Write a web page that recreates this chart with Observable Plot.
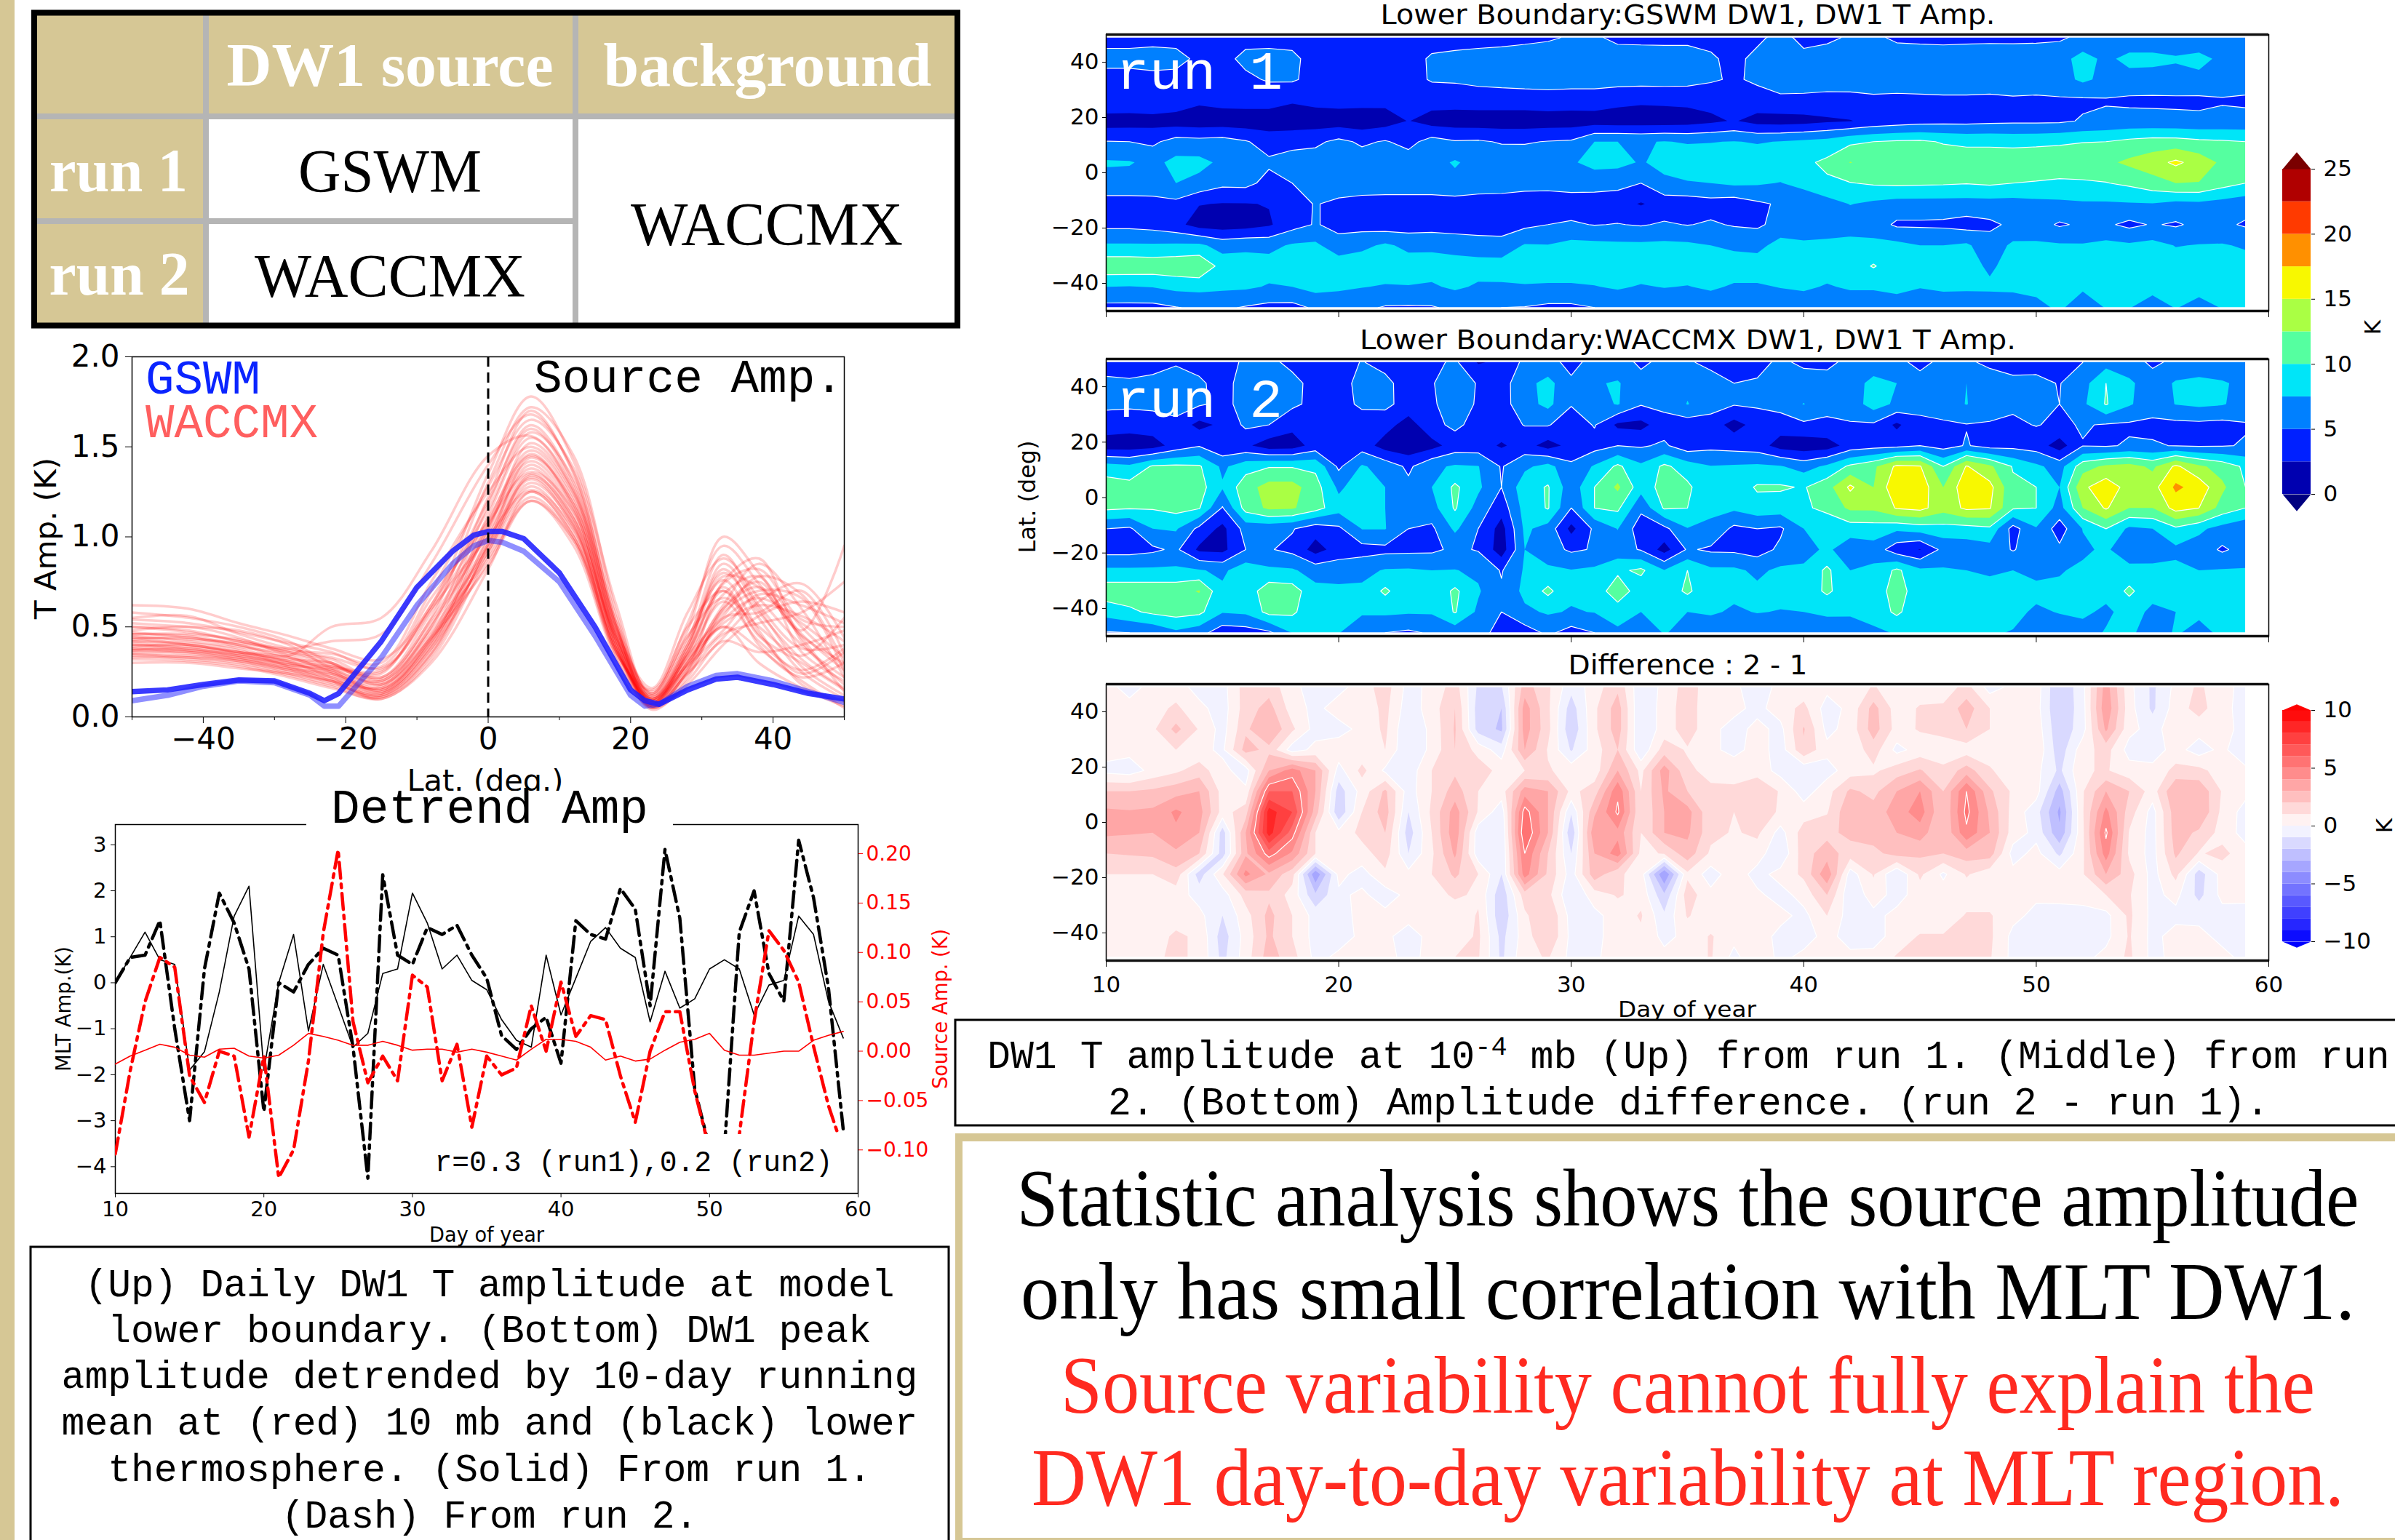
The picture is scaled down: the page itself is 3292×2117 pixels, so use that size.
<!DOCTYPE html>
<html><head><meta charset="utf-8">
<style>html,body{margin:0;padding:0;background:#fff;overflow:hidden}#page{position:relative;width:3292px;height:2117px;overflow:hidden;background:#fff}#page svg{position:absolute}</style>
<script src="https://cdn.jsdelivr.net/npm/d3@7"></script>
<script src="https://cdn.jsdelivr.net/npm/@observablehq/plot@0.6"></script>
</head><body><div id="page"></div>
<script>
// ---------- Source amplitude panel ----------
const redLats=[-50,-42,-35,-28,-22,-15,-8,0,6,12,18,23,28,33,38,44,50];
const redCurves=[
[.62,.60,.52,.45,.38,.32,.62,1.35,1.78,1.42,.62,.10,.38,.78,.72,.45,.30],
[.58,.55,.50,.42,.30,.22,.55,1.30,1.72,1.45,.58,.08,.30,.62,.85,.60,.22],
[.55,.56,.46,.38,.33,.28,.70,1.28,1.65,1.38,.55,.12,.42,.90,.62,.38,.40],
[.52,.50,.48,.40,.27,.20,.50,1.22,1.70,1.35,.52,.05,.25,.55,.58,.70,.35],
[.50,.47,.42,.36,.30,.18,.45,1.18,1.62,1.30,.50,.09,.35,.72,.45,.30,.15],
[.48,.50,.44,.34,.28,.25,.62,1.15,1.58,1.32,.48,.14,.48,1.0,.80,.50,.28],
[.47,.44,.40,.33,.26,.16,.42,1.12,1.55,1.25,.50,.07,.28,.48,.68,.62,.52],
[.46,.46,.43,.37,.35,.30,.75,1.25,1.50,1.22,.45,.10,.40,.82,.55,.25,.10],
[.45,.42,.38,.30,.24,.14,.40,1.08,1.48,1.20,.46,.06,.22,.60,.75,.48,.95],
[.44,.43,.41,.36,.32,.22,.58,1.10,1.45,1.18,.44,.11,.36,.70,.40,.22,.30],
[.44,.40,.36,.31,.22,.13,.38,1.05,1.42,1.15,.42,.08,.32,.52,.62,.56,.42],
[.43,.44,.39,.35,.29,.20,.52,1.02,1.40,1.12,.40,.05,.26,.75,.88,.42,.18],
[.42,.41,.37,.28,.21,.12,.36,1.00,1.38,1.10,.44,.13,.45,.66,.50,.34,.55],
[.41,.38,.34,.30,.27,.24,.66,1.08,1.36,1.14,.40,.07,.30,.58,.70,.66,.25],
[.40,.39,.36,.33,.25,.15,.44,.98,1.35,1.08,.38,.09,.38,.85,.60,.28,.12],
[.40,.37,.33,.27,.20,.11,.34,.95,1.32,1.05,.42,.06,.24,.46,.52,.58,.75],
[.39,.40,.35,.29,.26,.19,.48,.94,1.30,1.06,.36,.10,.34,.68,.78,.36,.20],
[.38,.36,.32,.26,.19,.13,.40,.92,1.28,1.02,.38,.04,.20,.42,.36,.40,.48],
[.38,.37,.35,.31,.28,.26,.60,1.00,1.26,1.04,.36,.12,.44,.76,.48,.18,.08],
[.37,.35,.31,.25,.20,.10,.32,.90,1.25,1.00,.34,.06,.28,.54,.66,.52,.33],
[.36,.36,.33,.28,.23,.16,.46,.88,1.22,.98,.36,.08,.32,.64,.42,.26,.38],
[.35,.33,.30,.24,.18,.12,.38,.86,1.20,.98,.35,.15,.52,.95,.74,.44,.14],
[.35,.34,.32,.27,.24,.18,.44,.84,1.20,.95,.32,.05,.18,.40,.56,.64,.58],
[.34,.32,.29,.23,.17,.10,.30,.82,1.25,1.00,.38,.07,.26,.50,.30,.16,.06],
[.33,.33,.31,.26,.22,.14,.42,.92,1.34,1.10,.42,.09,.30,.60,.72,.46,.26],
[.32,.31,.28,.22,.16,.11,.35,.96,1.44,1.18,.44,.06,.24,.44,.64,.74,.44],
[.30,.30,.27,.24,.20,.17,.50,1.04,1.52,1.24,.46,.11,.40,.80,.58,.32,.16],
[.50,.48,.42,.38,.42,.46,.85,1.40,1.68,1.36,.52,.13,.50,.70,.46,.24,.36],
[.54,.52,.47,.41,.36,.27,.60,1.20,1.60,1.28,.50,.08,.34,.56,.78,.68,.30],
[.46,.45,.40,.34,.50,.55,.92,1.45,1.56,1.26,.48,.16,.58,.88,.66,.40,.22],
[.42,.40,.36,.32,.30,.21,.54,1.06,1.46,1.16,.40,.07,.36,.74,.82,.54,.50],
[.37,.38,.34,.29,.25,.15,.43,.96,1.33,1.07,.37,.10,.29,.50,.38,.20,.05]
];
const blueLats=[-50,-45,-40,-35,-30,-25,-23,-21,-15,-10,-5,-2,0,2,5,10,15,20,22,24,28,32,35,40,45,50];
const gswmA=[.14,.15,.18,.205,.2,.13,.09,.13,.42,.72,.92,1.01,1.03,1.03,.99,.8,.5,.15,.09,.07,.15,.21,.22,.18,.13,.1];
const gswmB=[.09,.12,.17,.2,.19,.12,.06,.06,.33,.62,.85,.95,.98,.97,.92,.75,.45,.12,.06,.07,.17,.23,.24,.2,.14,.08];

// ---------- Detrended amplitude panel ----------
const days=d3.range(10,60);
const mltRun1=[0,.55,1.1,.5,.4,-1.9,-1.5,-.2,1.45,2.1,-1.9,0,1.05,-1.05,.4,-.5,-1.4,-1.1,.2,.3,1.95,1.3,.3,.6,.05,-.15,-.8,-1.25,-1.4,.6,-.7,.1,.9,1.2,.75,.55,-.85,.25,-.55,-.35,.3,.5,.3,-.7,-.05,.05,1.45,1.05,-.4,-1.2];
const mltRun2=[0,.55,.6,1.35,-1.0,-3.0,.3,1.95,1.3,.3,-2.8,0,-.2,.4,.75,.6,-1.4,-4.25,2.35,.6,.4,1.2,1.05,1.25,.6,.1,-1.15,-1.45,-1.0,-.75,-1.75,1.35,1.05,.95,2.05,1.6,-.5,2.9,1.4,-2.3,-3.6,-3.6,1.1,2.0,.2,-.4,3.1,1.85,-.1,-3.2];
const srcRun1=[-.013,-.005,.001,.007,.004,-.004,-.006,.002,.003,-.005,-.007,-.004,.006,.018,.015,.011,.006,.006,.01,.006,.001,.002,.002,-.001,.002,-.001,-.005,-.009,.002,.012,.012,.01,.004,-.009,-.005,-.01,-.008,.001,.009,.012,.018,.001,-.004,-.004,-.002,0,0,.011,.016,.02];
const srcRun2=[-.104,-.02,.05,.095,.085,-.025,-.052,0,-.005,-.087,-.005,-.128,-.1,-.01,.12,.204,.03,-.032,-.005,-.03,.077,.065,-.03,.007,-.077,-.005,-.024,-.017,.046,0,.07,.015,.036,.032,-.025,-.072,0,.04,.04,-.04,-.1,-.115,-.085,.03,.122,.102,.07,.005,-.055,-.1];

// ---------- Contour grids: 14 latitudes (top to bottom) x 50 days ----------
const run1=[
[4.4,4.4,4.4,4.4,4.4,4.4,4.4,4.4,4.4,4.4, 4.4,4.4,4.4,4.4,4.4,4.4,4.4,4.4,4.6,4.8, 5.2,5.3,4.6,4.5,4.5,4.5,4.6,4.6,4.7,5.5, 4.6,4.6,5.3,5.4,4.7,4.5,4.5,4.5,4.5,4.5, 4.6,4.7,5.6,5.6,5.6,5.6,5.6,5.6,5.6,5.6],
[5.6,5.6,5.8,5.6,4.6,4.4,5.5,5.6,5.4,4.3, 4,4,4,4.4,5.2,5.4,5.6,5.8,5.9,6, 6,6,5.9,6,5.9,5.9,5.2,4.6,5.4,5.8, 5.4,6,6,6,6,6.2,6,6.2,6.4,6.3, 6.2,6.5,8.5,6.9,8.3,8.3,7.8,8.3,6.9,6.5],
[4.3,4.3,4.4,4.4,4.5,4.5,4.6,5.2,5.3,4.2, 4,4,4,4.2,5.2,5.3,5.6,5.8,6,6, 6,6,6,6,6,5.9,5.3,4.7,5.4,5.9, 6,6,6.2,7,6.2,6.2,6.2,6.2,6.2,6.2, 6.2,6.5,8,6.8,6.5,6.3,6.5,6.8,6.3,6.2],
[4.8,4.5,4.6,4.2,3,3.4,3.6,3.6,2.8,3.2, 3.4,3.4,3.2,3.6,3.6,3.6,3.8,3.8,3.8,4, 3.8,3.8,3.2,2.9,3,3.1,3.3,3.5,4,4.6, 4.5,4.3,4.2,4.2,4.4,4.5,4.6,4.6,4.5,4.7, 4.6,4.7,4.6,4.8,4.6,4.6,4.6,4.5,4.8,4.6],
[1.2,1.3,1.5,1.2,1,1.1,1,1,1,1.2, 1.2,1,1.4,2.6,1.4,1.2,1.1,1.1,1.1,1.2, 1.2,1.3,1.2,1.2,1.2,1.4,2,2.7,1.6,1.4, 1.6,2.1,2.4,3.2,3.6,4,4.2,4.2,4.4,4.5, 4.5,4.6,5.2,5.5,5.7,5.6,5.5,5.5,5.6,5.7],
[5.1,5,4.5,6,5.8,6,5.2,4,4.3,4.5, 5.6,4.6,5.2,4.2,6,5.2,5.3,4.8,4.8,5.1, 5.3,7.5,7.5,7.3,7.6,7.3,7.4,7.6,7.3,7.6, 8,8.4,9.5,10,10.3,10.4,9.8,9.5,9.5,9.3, 9.4,9.6,9.9,10,10.6,11,11,10.5,10.3,10],
[7.8,7.7,6.8,8.2,8.2,7,6.5,5.4,6,6.2, 6.2,6.2,6.2,6.3,6.5,7.8,6.5,6.5,6.4,6.5, 7.2,8.3,8.2,7.3,8.2,9,9,9,9,9.3, 9.5,10.5,12.6,11.5,11.2,12.3,11.5,11.4,11.4,11.6, 11.8,11.8,12,12,13,14,15.5,14,12,11.5],
[6.5,6.5,7,7.5,6.8,5.6,5.7,4.2,5,6, 6,6,6,6,6,6.7,6,6,5.7,5.7, 6,6,5.8,5,7,7.3,7.5,8,7.8,7.4, 8.4,9.6,9.9,10.3,10.5,10.4,10.3,10.1,10.4,10, 9.8,9.5,9.6,9.9,10.5,11.5,12.5,12.4,11,10],
[4,4,3.8,4.3,2.6,2.4,2.4,2.6,4.3,5.1, 4.6,4.3,4.2,4.2,4.2,4,4.1,4,3.9,3.8, 3.8,3.7,3.5,2.3,3.5,3.6,4,3.6,4.6,5.3, 5.5,6.5,7.6,7,6.5,6.5,6.5,6.5,6.5,6.5, 6.8,7,7.2,7.2,7.3,7.4,6.8,7,6.5,6],
[4.3,4.3,4,3.2,1.5,1.2,1.4,2.2,4,5.2, 4.2,4,3.6,3.7,3.8,3.7,3.6,3.7,4.4,5, 5.3,4.9,5.1,4.8,5.3,4.9,5.3,4.8,4.6,5.8, 5.9,6,6,6.2,4.6,4.6,4.5,4,4.5,5.5, 6,4.7,5.4,5.4,4.4,5.2,4.7,5.6,5.5,4.7],
[7.8,7.8,7.8,7.9,8,6.5,7,6.8,7.8,8, 6,6.9,7.9,6.9,7,6.6,6.3,6,7.7,7.6, 8.3,8.2,8,8,8.1,8,7.5,7,6.7,8.5, 8,8.2,8.6,8.2,8.2,7.5,7.5,7.9,6,8, 7.9,7.8,7.7,8.2,7.9,8.3,7.4,7.6,7.7,7.2],
[11.8,11.8,11.6,11.8,12.2,9,8.5,8.5,9.5,9.8, 9,9,8.8,8.6,8.5,8.5,8.4,8.5,8.8,8.8, 8.8,8.8,8.8,8.8,8.8,8.8,8.8,8.8,8.8,8.8, 8.6,8.6,8.7,10.2,8.6,8.5,8.5,8.2,7.2,8.2, 8.4,8.5,8.5,8.5,8.5,8.5,8.5,8.5,8.5,8.5],
[7.5,7.4,7.6,8.2,8.3,8,7.9,7.3,7.5,8.4, 8,7.6,7.3,7.4,7.2,7.9,7.2,7.2,7.3,7.2, 7.2,7.4,7.8,7.3,7.6,7.4,7.9,7.2,7.2,7.6, 7.9,7.3,7.8,7.8,8.2,7.6,7.9,7.8,7.8,7.8, 8,8.3,7.8,8.2,8.2,8.2,8.2,8.2,8.2,8.2],
[4.3,4.3,4.3,4.9,5.4,5.4,4.8,4.3,4.2,5.4, 5.6,5.5,4.8,4.7,4.8,5.5,5.6,5,4.9,4.5, 4.5,5,5.6,5.8,5.8,5.8,5.8,5.8,6,6, 6,6,6,6,6.2,6.2,6.2,6.4,6.5,6.7, 7,7.8,6.5,7.6,7.6,6.5,7.6,6.8,7.6,7.6]
];
const run2=[
[4.2,4,4.3,4.8,4.4,4.3,5.3,5.5,4.5,4, 4.2,5.1,4.4,4,4.3,5.5,2.3,3,5.6,5.6, 4.5,5.6,5.5,4.8,5.3,5.3,4.4,4.2,4.4,5.4, 4.6,4.6,5.5,5.6,5.4,4.6,5.4,5.5,4.4,4.2, 4.3,4.4,5,6.5,6,4.6,5.5,5.6,5.6,5.6],
[5.4,5.3,5.5,6,5.3,4.3,5.8,6,5.6,4.3, 4,5.8,5.5,4.1,4.8,6.5,4.8,4,6.6,8.4, 5.3,7.2,7.8,5.4,6.3,7,6,5,5.2,6, 6,5.7,5.9,8.5,7.5,5.6,6,7.5,6.5,5.5, 5.5,4.9,6.5,10,8,6,7.8,8.3,7.8,6.8],
[5.5,5.5,5.6,6.5,5.3,4.5,5.6,7,5.5,4.3, 4,5.5,5.6,4,4.5,6.7,4.6,4,6.5,8.2, 5.2,6.5,7.7,5.2,5.8,7.6,6.2,5.2,5.4,6, 7.6,5.6,6,8.7,7,5.6,6.3,7.6,6,5.4, 7.5,5,7,10.2,7.8,6,7.6,8,7.7,6.5],
[3.8,3.4,3.8,4,1.8,3,5.5,5,3.2,2.5, 3.5,3.6,3.5,1.4,4.2,5.6,4,4,5.1,5.2, 3.5,5.2,2,1.8,3.8,3.6,3.7,1.6,3.4,3.6, 4.5,4.6,4.8,4.6,2,4.5,4.6,4.9,4.8,4.6, 5.1,4.6,5.2,4.8,4.6,4.5,4.3,4.4,4.2,4.8],
[1.2,1.2,1.4,3.5,4.8,3,3,1.2,1.3,3.5, 3.8,3.8,1.4,.8,1.6,3.6,3.6,2.2,3.5,1.5, 3.3,4,5,4.7,5.4,3.5,4.3,4,3.6,1.5, 1,1.3,3.5,4,4.2,5,4,5.2,4,4.2, 3.8,1.3,4.9,4.7,5.3,5.2,4.9,4.7,4.8,5.2],
[8.5,8,10.3,10.5,10.3,7,9,9.8,9.8,9.5, 4.5,7.8,6.5,4.5,7,7.8,7.6,4.8,7,8.4, 5.5,7.8,10.5,8,10.5,8.8,7.6,7.8,8,7.7, 6.5,8,10.5,12,15.5,15.2,10,15.2,13,9.8, 8,6.5,11.5,13,13.5,12,15.5,13,11.5,9.5],
[11.5,11,11,12.5,11,7.8,11.5,13.5,13.5,11, 7,9,7.5,5.6,7.5,10.5,8,5,9,10.2, 6,10,13,8.5,11,10.5,8,8.5,10.3,10.3, 9.8,11.5,15.5,12.5,17,16.5,12.5,16.8,15.8,10.5, 10,7.5,14.5,16.5,14,14,18,16.5,13,10],
[10.5,10.2,10.2,10.8,10.2,4.8,11,13,12.8,11, 8.5,9.5,7.5,5.5,6.5,10.3,6.5,3.5,8.5,10.2, 5,10,10.5,5.6,10.3,10,8,8,9,8.8, 9.5,10.8,13,13,15.2,15.8,13.5,15.5,15.2,10.3, 10,6.5,12.5,15.3,12.5,12.5,16,15,11.5,10],
[5,4.6,7.5,7.8,4.3,1.8,6,5.8,5.2,3.5, 4.5,7.6,7.6,5,4.5,8,5,1.5,8,6.5, 1.8,5.5,7.6,3.5,4.3,7.4,7,4.4,5,4.6, 7.5,7.7,8.7,8.8,8,8.6,9,9,9.5,4, 7.3,3.8,7.6,10,7,7.5,9.5,8,6.6,5.5],
[4,4,4.5,5.5,2,1.8,5,5.2,4.3,1.5, 3.6,4,4.3,4.4,4.5,5.5,4.8,1.2,7.5,6, 4.6,5.2,6,4.8,1.5,5.3,4.6,4.5,3.9,5.5, 6.5,8,6,6.5,3.5,2.4,5.7,6,6.5,4.8, 6.5,5.5,7,8,5.4,6.5,7,6.4,4.6,6],
[8,8,8,8,7.7,7,9,8,7.8,6.5, 6.5,6.8,7.7,7.8,7.5,7.6,7,4.8,7.8,8, 7.6,8,9.5,10.5,7.6,10,8,8,7,8, 8,10.5,7.5,8,10.5,8,7.8,7.5,7.3,7.5, 7,7.3,8,8,8.5,8,8,7.5,7.7,7.7],
[11.5,11.5,11.5,11.5,12.7,8,8.5,11.5,11.2,8.2, 8,8,10.5,8,8,10.5,7.8,5.3,8.2,10.6, 8,8.5,11.5,8.6,8.4,10.5,8,8,8,8.2, 8.3,10.5,8.3,8.5,11.2,8.5,8,8,8,8, 8,8,8,8.3,10.5,8.3,8,8,8,7.8],
[8.5,9.5,10.5,11,10.6,7.7,8,10.8,10.5,8, 8,7.8,8,7.8,7.8,10.2,7,5,7,7.8, 7.3,7.6,8.7,7.5,7.7,7.5,7.8,7.2,7.6,7.4, 7.5,7.8,7.7,8.5,10.5,8.2,8,7.9,7.9,8, 7.2,7.6,8,7,8.5,7,7.5,7.7,8,8],
[4.8,5,5.5,7,6,3.5,3.8,4.5,7.6,7.6, 7.6,6,5,4.6,5.3,6,6.5,3.5,3.8,5.5, 4,5,7,6.5,7.6,7,6,5.5,6,6.5, 6.8,6.5,6.8,7,7.7,7.7,7.7,7.7,7.7,7.4, 6.5,6.5,6.5,7.7,7.7,7,7.6,7.2,7.7,7.5]
];
const diff=[
[.3,-.3,.3,.5,-.4,-.4,1.5,1.6,.3,-.5, -.3,.5,1.5,-.4,.3,1.5,-1.2,-1.1,2.5,1.2, -.7,.5,1.8,-.8,.3,1.5,.4,.2,-.5,.3, .4,.3,.4,1.1,.4,.5,.4,1.4,-.4,.3, .5,-2,-.3,3.5,.3,-1.2,.3,1.2,.3,-.3],
[.5,.3,.6,1.2,.3,-.5,1.5,2.4,.5,-.3, .5,.3,1.3,-.6,.5,2,-1.5,-2,3.5,1.2, -1.5,.8,2.5,-1,.5,1.5,.3,.3,-.3,.5, 1.3,-.5,.3,2.4,.5,1.1,1.2,2.5,1,.3, .4,-2,-.4,3.8,.4,-1.2,.5,1.4,.3,-.4],
[.9,.4,.8,2.3,.9,-.4,1.8,3,1.2,-.4, -.4,.3,1.2,-1,.3,2.1,-1.4,-2.2,3.5,1.3, -1.8,.8,2.5,-1,.5,1.5,.3,-.4,.3,-.3, 2.1,-.3,.4,2.5,.6,1.1,1.3,2,1,.4, .6,-1.8,-.4,3.2,.3,-.4,.6,.4,.3,-.3],
[.4,.3,.6,1,.3,-.2,2.4,1.7,-.5,.3, .6,.3,1,-1,.3,2,.6,-.5,3,.9, -1.1,.5,2,-.8,1.5,.9,.3,-.4,.5,-.5, 1.8,.3,.3,1.5,-.3,.4,.5,.5,.6,.4, .8,-1.6,.6,1.4,-.4,-.5,.4,-.5,.3,-1],
[-.3,-.5,.3,.8,1.5,.3,-.5,3,4.5,3, -.4,1.3,-.2,-.6,1,1.8,1.6,.6,1,1.1, .6,.4,3,.7,3.5,1.2,.7,.8,.6,-.4, -.8,-.4,.5,.8,1.5,2.1,1.2,2.5,1.1,.5, .3,-1.2,.9,1.1,.4,.3,1.3,1.3,.5,.3],
[2,2,2.2,2.6,3,.6,.2,6,6,3, -1.5,.4,2.2,-.5,1,2.5,1,.5,3.5,3, .7,1.5,4.8,1,3.2,2,1.2,1.1,1.8,.9, -.5,.6,2.2,1.7,3,4,2,5,2.2,.8, .4,-2.5,.9,3,2,.5,3,2.8,.9,.3],
[3.2,3.1,3.2,4.2,3.4,.6,1.5,8.5,7,2.5, -1.8,1,2.5,-1,1.2,3.5,.9,-.6,5.5,3, -.9,2.8,5.2,1,3,3.4,1.2,1,1.8,.8, .5,.9,2.9,2.4,3.5,4.5,2,5.3,2.8,.6, -.6,-3.2,.9,4.3,1.5,-.4,2.6,3,.7,-.4],
[3.2,3.1,3,3.8,3,-1.5,3,8.5,5.5,1, .3,1.3,2,-1.5,1,3.7,-.6,-1,6,3, -1.8,3.8,3.7,1,3,3.2,1.3,.9,1.2,-.4, 1.5,1.7,2.3,2.5,3,3.5,2,4.8,3,.5, -.3,-2.8,.8,5.2,.9,-.4,2.5,1.8,.6,-.4],
[2,2.1,2.2,2.8,2,-1.5,2.8,5.5,3.8,1, .4,.6,1.5,-1,.8,3.2,-.6,-1,5,2, -1,3,4.5,.7,1.1,2.6,.8,.4,.5,-.9, 1.6,2.5,1.5,1.7,2.4,2.2,2,2.5,2.5,-.4, .3,-1.2,.8,4.5,.8,-.4,2.2,.9,1.3,.4],
[1,1,1,1.6,-1.5,.9,4.3,2.8,1.4,-3.8, .3,-.4,.8,.3,1,2.2,1,-1,4.5,1.8, -.5,2.6,1.2,.5,-4,.8,-.5,.6,-.4,.4, 1.2,3.8,-.5,1.1,-1,1.2,-.2,1.1,.4,.3, .3,.4,.9,3,1.4,-.4,1.3,-1.5,.4,.3],
[.5,.5,.4,.5,-.4,-.5,1.4,1.8,.6,-1.8, -.2,.2,-.5,.3,.5,1.2,.8,-1.7,1.5,1.3, -.9,.5,1.1,.7,-1.8,1.5,.3,.6,.2,-.4, .4,2,-.8,.5,-.4,.5,.5,.5,.5,.3, .2,.3,.3,1,1.1,-.3,.3,-1.3,.3,.2],
[.3,.3,.3,.5,.3,-1,.6,2.3,1,-.4, -.4,.3,.3,.3,.3,.3,1.1,-1.8,.8,2, -.4,-.3,.5,1.1,-.8,1.1,.3,.3,.3,.3, -.3,1,-.5,-.3,.3,.3,.3,1.1,1.1,.3, -.3,-.4,-.3,-.3,1.2,-.3,-.3,-.3,-.4,-.3],
[.3,.3,.5,1.2,.8,-1.5,.4,2.2,1,-.4, -.4,.2,.2,-.4,.3,.3,1.2,-1.3,.5,2, -.3,-.3,.5,.8,-.3,.3,1.1,.3,.5,-.3, -.5,.4,-.5,-.4,.4,1.1,1.1,1.2,1.2,-.3, -.3,-.3,-.4,-.3,1.1,-.3,.4,.3,-.3,-.3],
[.3,.3,.8,1.2,.8,-1.3,.5,2.5,1.4,-.3, .2,.3,.3,-.3,.3,1,1.1,-1.2,.7,1.1, -.3,-.3,.8,.4,.3,.3,1.1,-.3,.8,-.3, .3,.4,.3,.3,1.1,1.1,1.1,1.2,1.1,-.3, -.3,-1,-.3,.3,1.2,-.3,.3,.3,.3,-.3]
];

// ---------- Colour levels ----------
const ampLevels=[0,2.5,5,7.5,10,12.5,15,17.5,20,22.5];
const ampColors=["#0000b0","#0020ff","#0080ff","#00e5f8","#55ffa0","#aaff44","#f8f800","#ff9000","#ff3a00","#b00000"];
const diffLevels=[-10,-9,-8,-7,-6,-5,-4,-3,-2,-1,0,1,2,3,4,5,6,7,8,9];
const diffColors=["#0c0cff","#2626ff","#4040ff","#5959ff","#7373ff","#8c8cff","#a6a6ff","#bfbfff","#d9d9ff","#f2f2ff","#fff2f2","#ffd9d9","#ffbfbf","#ffa6a6","#ff8c8c","#ff7373","#ff5959","#ff4040","#ff2626","#ff0c0c"];

const page=document.getElementById("page");
const mount=(el,left,top)=>{el.style.left=left+"px";el.style.top=top+"px";page.appendChild(el);return el;};
const baseStyle=(size)=>({background:"transparent",overflow:"visible",fontFamily:"'DejaVu Sans'",fontSize:size+"px",color:"#000"});

// ---------- Contour panels ----------
function contourPanel(rows,levels,colors,lines,frameTop,frameBottom,showX){
  const values=rows.flat();
  const grid={width:50,height:rows.length,x1:9.5,x2:59.5,y1:52.5,y2:-52.5,clip:true};
  const mt=10,mb=60,left=1420,W=1720;
  const bg=(a,b,c,d)=>Plot.rect([0],{x1:()=>a,x2:()=>b,y1:()=>c,y2:()=>d,fill:"white"});
  const svg=Plot.plot({
    width:W,height:frameBottom-frameTop+mt+mb,marginLeft:100,marginRight:22,marginTop:mt,marginBottom:mb,
    style:baseStyle(31),
    x:{domain:[10,60]},y:{domain:[-50,50]},
    color:{type:"threshold",domain:levels.slice(1),range:colors},
    marks:[
      Plot.contour(values,{...grid,fill:Plot.identity,thresholds:levels}),
      Plot.contour(values,{...grid,value:Plot.identity,stroke:"white",strokeWidth:1.2,thresholds:lines}),
      bg(59,60,-50,50),bg(10,60,48.75,50),bg(10,60,-50,-48.75),
      Plot.frame({stroke:"#000",strokeWidth:1.5}),
      Plot.ruleY([-50,50],{stroke:"#111",strokeWidth:3.5}),
      Plot.axisY({ticks:[-40,-20,0,20,40],tickSize:5,tickPadding:5,label:null,tickFormat:d3.format("d")}),
      Plot.axisX({ticks:[10,20,30,40,50,60],tickSize:9,tickPadding:12,label:null,tickFormat:showX?d3.format("d"):()=>""})
    ]
  });
  mount(svg,left,frameTop-mt);
}
contourPanel(run1,ampLevels,ampColors,[5,10,15,20],47,427,false);
contourPanel(run2,ampLevels,ampColors,[5,10,15,20],493,874,false);
contourPanel(diff,diffLevels,diffColors,[-5,0,5],940,1320,true);

// ---------- Colour bars ----------
function colorBar(levels,colors,hi,lo,step,top,y0,yHi,ticks){
  const H=y0-yHi+70;
  const bars=levels.map((l,i)=>({l,c:colors[i]}));
  const svg=Plot.plot({
    width:110,height:H,marginLeft:0,marginRight:71,marginTop:yHi-top,marginBottom:H-(y0-top),
    style:baseStyle(31),
    x:{domain:[0,1],axis:null},y:{domain:[lo,hi]},color:{type:"identity"},
    marks:[
      Plot.rect(bars,{x1:()=>0,x2:()=>1,y1:"l",y2:d=>d.l+step,fill:"c"}),
      Plot.line([[0,hi],[.5,hi+step*.52],[1,hi]],{x:d=>d[0],y:d=>d[1],fill:colors[colors.length-1]==="#b00000"?"#7a0000":"#ff0000",stroke:"none"}),
      Plot.line([[0,lo],[.5,lo-step*.52],[1,lo]],{x:d=>d[0],y:d=>d[1],fill:colors[0]==="#0000b0"?"#000080":"#0000ff",stroke:"none"}),
      Plot.axisY({anchor:"right",ticks,tickSize:5,tickPadding:12,label:null,tickFormat:d3.format("d")})
    ]
  });
  mount(svg,3137,top);
}
colorBar(ampLevels,ampColors,25,0,2.5,200,679,232,[0,5,10,15,20,25]);
colorBar(diffLevels,diffColors,10,-10,1,940,1294,976,[-10,-5,0,5,10]);

// ---------- Source Amp panel ----------
const redData=redCurves.flatMap((c,k)=>c.map((v,i)=>({k,lat:redLats[i],v})));
const blueTable=arr=>arr.map((v,i)=>({lat:blueLats[i],v}));
mount(Plot.plot({
  width:1130,height:570,marginLeft:121,marginRight:30,marginTop:20,marginBottom:55,
  style:baseStyle(42),
  x:{domain:[-50,50]},y:{domain:[0,2]},
  marks:[
    Plot.line(redData,{x:"lat",y:"v",z:"k",stroke:"#ff0000",strokeOpacity:.2,strokeWidth:3.5,curve:"catmull-rom",clip:true}),
    Plot.line(blueTable(gswmA),{x:"lat",y:"v",stroke:"#1f1fff",strokeOpacity:.88,strokeWidth:7.5,clip:true}),
    Plot.line(blueTable(gswmB),{x:"lat",y:"v",stroke:"#1f1fff",strokeOpacity:.5,strokeWidth:7.5,clip:true}),
    Plot.ruleX([0],{stroke:"#000",strokeWidth:3,strokeDasharray:"14 8"}),
    Plot.frame({stroke:"#000",strokeWidth:1.5}),
    Plot.axisY({ticks:[0,.5,1,1.5,2],tickSize:9,tickPadding:8,label:null,tickFormat:d3.format(".1f")}),
    Plot.axisX({ticks:[-40,-20,0,20,40],tickSize:9,tickPadding:6,label:null,tickFormat:d3.format("d")}),
    Plot.axisX({ticks:[-50,-30,-10,10,30,50],tickSize:5,label:null,tickFormat:()=>""})
  ]
}),60,470);

// ---------- Detrend panel (two y scales on one frame) ----------
const dt={width:1240,height:560,marginLeft:98,marginRight:121,marginTop:13,marginBottom:40};
const tbl=arr=>arr.map((v,i)=>({day:days[i],v}));
const dashdot="22 8 5 8";
mount(Plot.plot({...dt,style:baseStyle(29),
  x:{domain:[10,60]},y:{domain:[-4.58,3.44]},
  marks:[
    Plot.line(tbl(mltRun1),{x:"day",y:"v",stroke:"#000",strokeWidth:1.6,clip:true}),
    Plot.line(tbl(mltRun2),{x:"day",y:"v",stroke:"#000",strokeWidth:4.5,strokeDasharray:dashdot,clip:true}),
    Plot.frame({stroke:"#000",strokeWidth:1.5}),
    Plot.axisY({ticks:[-4,-3,-2,-1,0,1,2,3],tickSize:6,tickPadding:6,label:null,tickFormat:d3.format("d")}),
    Plot.axisX({ticks:[10,20,30,40,50,60],tickSize:6,tickPadding:5,label:null,tickFormat:d3.format("d")})
  ]
}),60,1120);
mount(Plot.plot({...dt,style:baseStyle(28),
  x:{domain:[10,60],axis:null},y:{domain:[-.144,.2295]},
  marks:[
    Plot.line(tbl(srcRun1),{x:"day",y:"v",stroke:"#ff0000",strokeWidth:1.6,clip:true}),
    Plot.line(tbl(srcRun2),{x:"day",y:"v",stroke:"#ff0000",strokeWidth:4.5,strokeDasharray:dashdot,clip:true}),
    Plot.axisY({anchor:"right",color:"#ff0000",ticks:[-.1,-.05,0,.05,.1,.15,.2],tickSize:6,tickPadding:5,label:null,tickFormat:d3.format(".2f")})
  ]
}),60,1120);

// ---------- Overlay: table, captions, panel text ----------
const ov=d3.select(page).append("svg").attr("width",3292).attr("height",2117).style("left",0).style("top",0);
const R=(x,y,w,h,fill,stroke,sw)=>ov.append("rect").attr("x",x).attr("y",y).attr("width",w).attr("height",h).attr("fill",fill).attr("stroke",stroke||"none").attr("stroke-width",sw||0);
const MONO="'Liberation Mono'",SERIF="'Liberation Serif'",SANS="'DejaVu Sans'";
function T(s,x,y,o={}){
  const t=ov.append("text").attr("x",x).attr("y",y).attr("font-family",o.font||SANS).attr("font-size",o.size||30)
    .attr("fill",o.fill||"#000").attr("text-anchor",o.anchor||"middle").attr("font-weight",o.weight||"normal").attr("xml:space","preserve").text(s);
  if(o.len)t.attr("textLength",o.len).attr("lengthAdjust","spacingAndGlyphs");
  if(o.rot!==undefined)t.attr("transform",`rotate(${o.rot} ${x} ${y})`);
  return t;
}
const TAN="#d6c795",GRAY="#b5b5b5";
// left decorative strip
R(0,0,20,2117,TAN);
// table
R(47,17,1269,431,"#fff");
R(47,17,1269,141,TAN);
R(47,158,236,290,TAN);
R(279,18,8,430,GRAY);
R(787,18,8,430,GRAY);
R(48,156,1268,8,GRAY);
R(48,300,739,8,GRAY);
R(47,17.5,1269,430,"none","#000",8);
T("DW1 source",536,118,{font:SERIF,weight:"bold",size:84,fill:"#fff",len:449});
T("background",1055,118,{font:SERIF,weight:"bold",size:84,fill:"#fff",len:451});
T("run 1",163,263,{font:SERIF,weight:"bold",size:84,fill:"#fff",len:190});
T("run 2",164,405,{font:SERIF,weight:"bold",size:84,fill:"#fff",len:193});
T("GSWM",536,264,{font:SERIF,size:84,len:252});
T("WACCMX",536,408,{font:SERIF,size:84,len:372});
T("WACCMX",1054,337,{font:SERIF,size:84,len:374});
// source panel text
T("GSWM",200,541,{font:MONO,size:66,fill:"#0a24ff",anchor:"start",len:158});
T("WACCMX",200,601,{font:MONO,size:66,fill:"#ff5f5f",anchor:"start",len:237});
T("Source Amp.",734,539,{font:MONO,size:64,anchor:"start",len:425});
T("T Amp. (K)",77,740,{size:40,rot:-90,len:222});
T("Lat. (deg.)",667,1087,{size:40,len:215});
// detrend panel text
R(421,1087,504,50,"#fff");
T("Detrend Amp",673,1131,{font:MONO,size:66,len:436});
R(590,1559,574,76,"#fff");
T("r=0.3 (run1),0.2 (run2)",871,1610,{font:MONO,size:40,len:547});
T("Day of year",669,1707,{size:28,len:158});
T("MLT Amp.(K)",97,1387,{size:28,rot:-90,len:172});
T("Source Amp. (K)",1302,1387,{size:28,rot:-90,fill:"#ff0000",len:220});
// left caption
R(42,1714,1262,420,"#fff","#000",3);
["(Up) Daily DW1 T amplitude at model","lower boundary. (Bottom) DW1 peak","amplitude detrended by 10-day running","mean at (red) 10 mb and (black) lower","thermosphere. (Solid) From run 1.","(Dash) From run 2."]
 .forEach((s,i)=>T(s,673,[1782,1845,1908,1972,2036,2100][i],{font:MONO,size:53}));
// contour panel text
T("Lower Boundary:GSWM DW1, DW1 T Amp.",2320,33,{size:37,len:845});
T("Lower Boundary:WACCMX DW1, DW1 T Amp.",2320,480,{size:37,len:902});
T("Difference : 2 - 1",2320,927,{size:37,len:329});
T("run 1",1534,122,{font:MONO,size:74,fill:"#fff",anchor:"start",len:229});
T("run 2",1534,573,{font:MONO,size:74,fill:"#fff",anchor:"start",len:229});
T("Lat. (deg)",1423,683,{size:32,rot:-90,len:155});
T("Day of year",2319,1398,{size:31,len:190});
T("K",3272,450,{size:31,rot:-90});
T("K",3288,1135,{size:31,rot:-90});
// right caption
R(1313,1402,2100,145,"#fff","#000",3);
const cap=T("DW1 T amplitude at 10",1357,1468,{font:MONO,size:53.2,anchor:"start"});
cap.append("tspan").attr("font-size",37).attr("dy",-18).text("-4");
cap.append("tspan").attr("dy",18).text(" mb (Up) from run 1. (Middle) from run");
T("2. (Bottom) Amplitude difference. (run 2 - run 1).",2321,1532,{font:MONO,size:53.2});
// conclusion box
R(1313,1558,2100,559,TAN);
R(1323,1569,2100,545,"#fff");
const big=[["Statistic analysis shows the source amplitude",1685,1845,"#000"],["only has small correlation with MLT DW1.",1813,1834,"#000"],["Source variability cannot fully explain the",1942,1724,"#ff2a20"],["DW1 day-to-day variability at MLT region.",2069,1804,"#ff2a20"]];
big.forEach(([s,y,len,fill])=>T(s,2320,y,{font:SERIF,size:113,len,fill}));
</script></body></html>
